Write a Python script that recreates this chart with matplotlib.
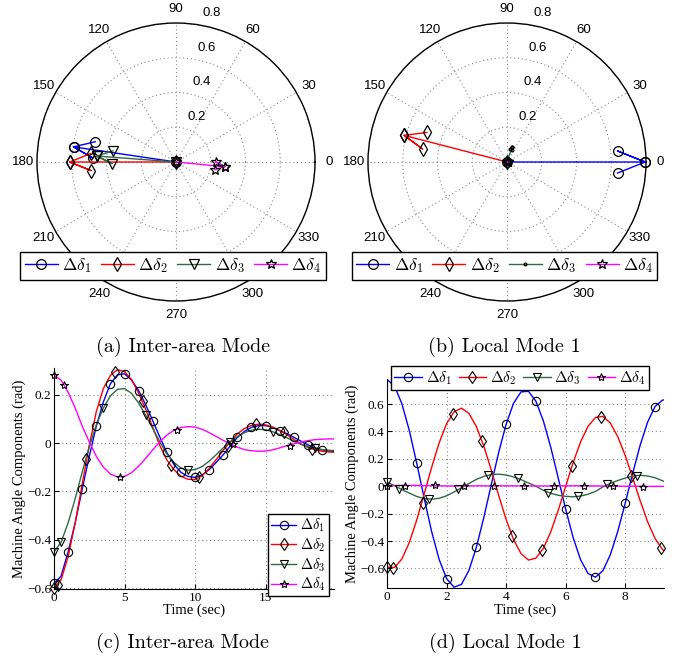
import numpy as np
import matplotlib
matplotlib.use('Agg')
import matplotlib.pyplot as plt
from matplotlib.transforms import offset_copy

plt.rcParams['mathtext.fontset'] = 'cm'

# ---------------- data ----------------
series_labels = [r'$\Delta\delta_1$', r'$\Delta\delta_2$', r'$\Delta\delta_3$', r'$\Delta\delta_4$']
series_colors = ['#0000FF', '#FF0000', '#2E6B45', '#FF00FF']
markers_a = ['o', 'd', 'v', '*']
markers_b = ['o', 'd', '.', '*']

# compass (mode shape) phasors: magnitude and angle in degrees
inter_mag = [0.596, 0.612, 0.458, 0.283]
inter_ang = [171.6, 180.0, 175.7, 354.5]
local_mag = [0.795, 0.612, 0.092, 0.004]
local_ang = [0.0, 165.5, 71.0, 0.0]

angle_ticks = [0, 30, 60, 90, 120, 150, 180, 210, 240, 270, 300, 330]
radius_ticks = [0.2, 0.4, 0.6, 0.8]

# (c) inter-area mode time response
t_c = [0, 0.5, 1, 1.5, 2, 2.5, 3, 3.5, 4, 4.5, 5, 5.5, 6, 6.5, 7, 7.5, 8, 8.5, 9, 9.5,
       10, 10.5, 11, 11.5, 12, 12.5, 13, 13.5, 14, 14.5, 15, 15.5, 16, 16.5, 17, 17.5,
       18, 18.5, 19, 19.5, 19.85]
c_d1 = [-0.58, -0.55, -0.45, -0.33, -0.19, -0.055, 0.07, 0.17, 0.245, 0.282, 0.286, 0.26,
        0.217, 0.158, 0.092, 0.025, -0.039, -0.088, -0.121, -0.138, -0.142, -0.132, -0.11,
        -0.08, -0.048, -0.012, 0.023, 0.048, 0.065, 0.072, 0.072, 0.064, 0.051, 0.039,
        0.024, 0.008, -0.008, -0.02, -0.028, -0.033, -0.035]
c_d2 = [-0.6, -0.565, -0.47, -0.33, -0.17, -0.01, 0.13, 0.225, 0.28, 0.303, 0.295, 0.262,
        0.205, 0.14, 0.065, -0.01, -0.07, -0.11, -0.137, -0.15, -0.15, -0.135, -0.105,
        -0.068, -0.03, 0.005, 0.038, 0.06, 0.073, 0.078, 0.075, 0.066, 0.052, 0.035,
        0.015, -0.003, -0.018, -0.028, -0.034, -0.037, -0.038]
c_d3 = [-0.45, -0.41, -0.33, -0.23, -0.12, -0.015, 0.075, 0.145, 0.195, 0.222, 0.225, 0.205,
        0.165, 0.115, 0.06, 0.005, -0.045, -0.08, -0.103, -0.112, -0.11, -0.097, -0.075,
        -0.048, -0.02, 0.005, 0.027, 0.043, 0.053, 0.057, 0.055, 0.047, 0.035, 0.022,
        0.008, -0.005, -0.015, -0.022, -0.027, -0.03, -0.031]
c_d4 = [0.28, 0.26, 0.21, 0.145, 0.07, 0.005, -0.055, -0.1, -0.128, -0.14, -0.138, -0.122,
        -0.096, -0.063, -0.028, 0.005, 0.033, 0.053, 0.064, 0.068, 0.066, 0.057, 0.043,
        0.027, 0.011, -0.004, -0.017, -0.027, -0.032, -0.034, -0.033, -0.028, -0.02,
        -0.011, -0.003, 0.004, 0.01, 0.014, 0.016, 0.017, 0.017]
# marker samples (c)
cm1_t = [0, 1, 2, 3, 4, 5, 6, 7, 8, 9, 10, 11, 12, 13, 14, 15, 16, 17, 18, 19]
cm1_v = [-0.58, -0.45, -0.19, 0.07, 0.245, 0.286, 0.217, 0.092, -0.039, -0.121, -0.142,
         -0.11, -0.048, 0.023, 0.065, 0.072, 0.051, 0.024, -0.01, -0.028]
cm2_t = [0, 0.3, 2.3, 4.3, 6.3, 8.3, 10.3, 12.3, 14.3, 16.3, 18.3]
cm2_v = [-0.6, -0.585, -0.066, 0.292, 0.175, -0.091, -0.142, -0.014, 0.079, 0.047, -0.025]
cm3_t = [0, 0.5, 3.5, 6.5, 9.5, 12.5, 15.5, 18.5]
cm3_v = [-0.45, -0.41, 0.145, 0.115, -0.112, 0.005, 0.047, -0.022]
cm4_t = [0, 0.7, 4.7, 8.7, 12.7, 16.7]
cm4_v = [0.28, 0.238, -0.14, 0.055, -0.005, -0.012]

# (d) local mode 1 time response
t_d = [0, 0.25, 0.5, 0.75, 1, 1.25, 1.5, 1.75, 2, 2.25, 2.5, 2.75, 3, 3.25, 3.5, 3.75,
       4, 4.25, 4.5, 4.75, 5, 5.25, 5.5, 5.75, 6, 6.25, 6.5, 6.75, 7, 7.25, 7.5, 7.75,
       8, 8.25, 8.5, 8.75, 9, 9.25, 9.3]
d_d1 = [0.78, 0.732, 0.602, 0.406, 0.166, -0.089, -0.332, -0.534, -0.674, -0.737, -0.716,
        -0.615, -0.446, -0.229, 0.011, 0.248, 0.453, 0.606, 0.689, 0.693, 0.62, 0.477,
        0.283, 0.059, -0.169, -0.375, -0.537, -0.637, -0.664, -0.616, -0.499, -0.328,
        -0.122, 0.096, 0.3, 0.468, 0.582, 0.629, 0.63]
d_d2 = [-0.59, -0.593, -0.531, -0.41, -0.245, -0.055, 0.139, 0.316, 0.456, 0.543, 0.57,
        0.532, 0.436, 0.293, 0.119, -0.067, -0.243, -0.39, -0.492, -0.539, -0.525, -0.453,
        -0.332, -0.175, 0.0, 0.173, 0.324, 0.438, 0.502, 0.51, 0.461, 0.361, 0.223, 0.061,
        -0.106, -0.259, -0.382, -0.461, -0.471]
d_d3 = [0.03, 0.005, -0.025, -0.05, -0.075, -0.09, -0.094, -0.088, -0.07, -0.042, -0.012,
        0.02, 0.05, 0.072, 0.085, 0.088, 0.082, 0.068, 0.048, 0.024, 0.0, -0.03, -0.052,
        -0.066, -0.074, -0.077, -0.072, -0.058, -0.038, -0.005, 0.022, 0.042, 0.06, 0.074,
        0.08, 0.075, 0.062, 0.04, 0.035]
d_d4 = [0.004, 0.005, 0.006, 0.006, 0.006, 0.005, 0.004, 0.003, 0.002, 0.002, 0.002,
        0.002, 0.003, 0.003, 0.003, 0.003, 0.003, 0.003, 0.002, 0.002, 0.002, 0.002, 0.002,
        0.003, 0.003, 0.003, 0.003, 0.003, 0.002, 0.002, 0.001, 0.001, 0.0, 0.0, 0.0,
        -0.001, -0.001, -0.001, -0.001]
dm1_t = [1, 2, 3, 4, 5, 6, 7, 8, 9]
dm1_v = [0.166, -0.674, -0.446, 0.453, 0.62, -0.169, -0.664, -0.122, 0.582]
dm2_t = [0, 0.2, 1.2, 2.2, 3.2, 4.2, 5.2, 6.2, 7.2, 8.2, 9.2]
dm2_v = [-0.59, -0.6, -0.119, 0.526, 0.331, -0.363, -0.467, 0.148, 0.506, 0.075, -0.448]
dm3_t = [0, 0.4, 1.4, 2.4, 3.4, 4.4, 5.4, 6.4, 7.4, 8.4]
dm3_v = [0.03, -0.02, -0.095, -0.022, 0.08, 0.058, -0.05, -0.07, 0.015, 0.075]
dm4_t = [0, 0.6, 1.6, 2.6, 3.6, 4.6, 5.6, 6.6, 7.6, 8.6]
dm4_v = [0.0, 0.005, 0.006, 0.004, 0.0, 0.0, 0.004, 0.005, 0.0, -0.002]

# ---------------- figure ----------------
W, H = 691, 658
fig = plt.figure(figsize=(W / 100, H / 100), dpi=100)
GRID_KW = dict(linestyle=(0, (1, 2.5)), color='#8c8c8c', linewidth=0.8)


def frac_rect(left, top, width, height):
    return [left / W, 1 - (top + height) / H, width / W, height / H]


def compass(rect, mags, angs, mk, leg_center):
    ax = fig.add_axes(rect, projection='polar')
    ax.set_ylim(0, 0.8)
    ax.set_thetagrids(angle_ticks, labels=[''] * len(angle_ticks))
    ax.set_rgrids(radius_ticks, labels=[''] * len(radius_ticks))
    ax.grid(True, **GRID_KW)
    ax.spines['polar'].set_linewidth(1.0)
    ax.tick_params(length=0)
    for i in range(4):
        z = mags[i] * np.exp(1j * np.deg2rad(angs[i]))
        verts = np.array([0, 1, 0.8 + 0.08j, 1, 0.8 - 0.08j]) * z
        ax.plot(np.angle(verts), np.abs(verts), color=series_colors[i], lw=1.0,
                marker=mk[i], mec='k', mfc='none', mew=0.9,
                ms=(7 if mk[i] != '.' else 4), label=series_labels[i], clip_on=False,
                zorder=3)
    for a in angle_ticks:
        ax.text(np.deg2rad(a), 0.88, str(a), ha='center', va='center', fontsize=9.5,
                family='Liberation Sans', clip_on=False)
    tr = offset_copy(ax.transData, fig=fig, x=7, y=5, units='dots')
    for r in radius_ticks:
        ax.text(np.deg2rad(82), r, f'{r:g}', transform=tr, ha='left', va='bottom',
                fontsize=9.5, family='Liberation Sans', clip_on=False)
    leg = ax.legend(loc='center', bbox_to_anchor=(leg_center[0] / W, 1 - leg_center[1] / H),
                    bbox_transform=fig.transFigure, ncol=4, fontsize=12.5,
                    handlelength=1.9, handletextpad=0.25, columnspacing=0.55,
                    borderpad=0.25, fancybox=False, framealpha=1, edgecolor='k')
    leg.get_frame().set_linewidth(1.0)
    leg.set_zorder(10)
    return ax


compass(frac_rect(37, 23, 278, 278), inter_mag, inter_ang, markers_a, (173, 266))
compass(frac_rect(368, 23, 278, 278), local_mag, local_ang, markers_b, (504.5, 266))


def time_axes(rect, t, ys, mts, mvs, xlim, ylim, xticks, yticks, ylabels):
    ax = fig.add_axes(rect)
    for i in range(4):
        ax.plot(t, ys[i], color=series_colors[i], lw=1.0, zorder=2)
        ax.plot(mts[i], mvs[i], ls='none', marker=markers_a[i], mec='k', mfc='none',
                mew=0.8, ms=6, zorder=3, clip_on=False)
    ax.set_xlim(*xlim)
    ax.set_ylim(*ylim)
    ax.set_xticks(xticks)
    ax.set_xticklabels([f'{x:g}' for x in xticks], family='Liberation Serif', fontsize=9.5)
    ax.set_yticks(yticks)
    ax.set_yticklabels(ylabels, family='Liberation Serif', fontsize=9.5)
    ax.grid(True, **GRID_KW)
    ax.spines['top'].set_visible(False)
    ax.spines['right'].set_visible(False)
    ax.tick_params(direction='in', length=3.5, width=0.8, pad=2)
    ax.set_xlabel('Time (sec)', family='Liberation Serif', fontsize=10.5, labelpad=0)
    ax.set_ylabel('Machine Angle Components (rad)', family='Liberation Serif',
                  fontsize=10.5, labelpad=1)
    return ax


def legend_handles():
    hs = []
    for i in range(4):
        h, = plt.plot([], [], color=series_colors[i], lw=1.0, marker=markers_a[i],
                      mec='k', mfc='none', mew=0.8, ms=6)
        hs.append(h)
    return hs


axc = time_axes(frac_rect(54, 368, 280, 221), t_c, [c_d1, c_d2, c_d3, c_d4],
                [cm1_t, cm2_t, cm3_t, cm4_t], [cm1_v, cm2_v, cm3_v, cm4_v],
                (0, 19.85), (-0.603, 0.31), [0, 5, 10, 15],
                [-0.6, -0.4, -0.2, 0, 0.2], ['\u22120.6', '\u22120.4', '\u22120.2', '0', '0.2'])
hc = legend_handles()
legc = axc.legend(hc, series_labels, loc='center', bbox_to_anchor=(298.5 / W, 1 - 555 / H),
                  bbox_transform=fig.transFigure, ncol=1, fontsize=10.5, handlelength=1.7,
                  handletextpad=0.3, borderpad=0.2, labelspacing=0.15, fancybox=False,
                  framealpha=1, edgecolor='k')
legc.get_frame().set_linewidth(1.0)

axd = time_axes(frac_rect(387, 378.7, 277, 209.6), t_d, [d_d1, d_d2, d_d3, d_d4],
                [dm1_t, dm2_t, dm3_t, dm4_t], [dm1_v, dm2_v, dm3_v, dm4_v],
                (0, 9.3), (-0.745, 0.785), [0, 2, 4, 6, 8],
                [-0.6, -0.4, -0.2, 0, 0.2, 0.4, 0.6],
                ['\u22120.6', '\u22120.4', '\u22120.2', '0', '0.2', '0.4', '0.6'])
hd = legend_handles()
legd = axd.legend(hd, series_labels, loc='center', bbox_to_anchor=(520 / W, 1 - 378 / H),
                  bbox_transform=fig.transFigure, ncol=4, fontsize=11, handlelength=1.8,
                  handletextpad=0.25, columnspacing=0.45, borderpad=0.2, fancybox=False,
                  framealpha=1, edgecolor='k')
legd.get_frame().set_linewidth(1.0)

# captions
cap_kw = dict(ha='center', va='center', fontsize=14.5, family='cmr10')
fig.text(183 / W, 1 - 347 / H, '(a) Inter-area Mode', **cap_kw)
fig.text(504 / W, 1 - 347 / H, '(b) Local Mode 1', **cap_kw)
fig.text(183 / W, 1 - 643 / H, '(c) Inter-area Mode', **cap_kw)
fig.text(505 / W, 1 - 643 / H, '(d) Local Mode 1', **cap_kw)

fig.savefig('out.png', dpi=100)
